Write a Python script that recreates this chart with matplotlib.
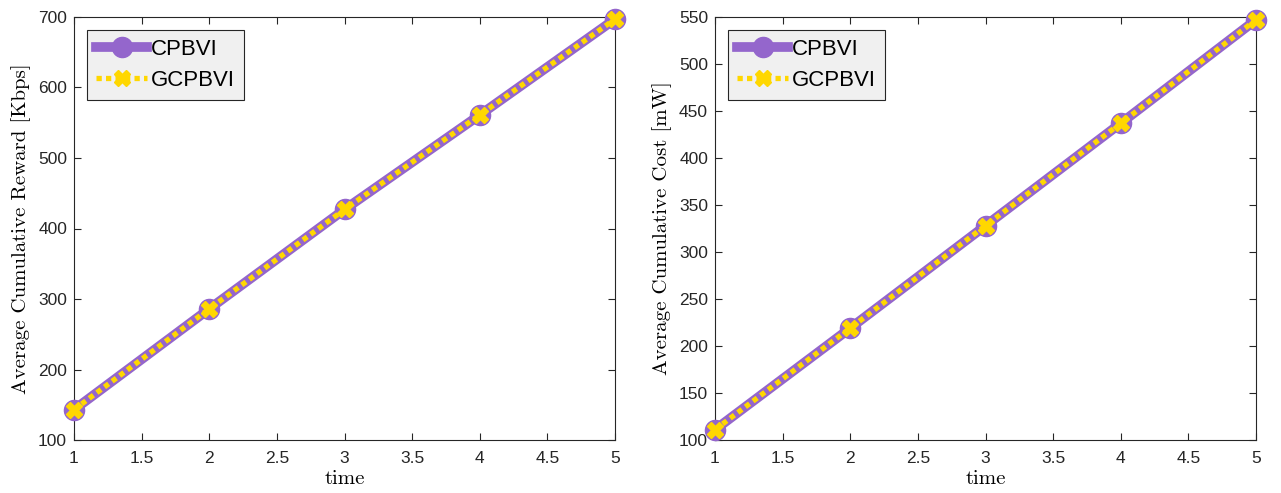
import matplotlib
matplotlib.use('Agg')
import matplotlib.pyplot as plt
import numpy as np

time = [1, 2, 3, 4, 5]
reward_cpbvi = [143, 286, 427, 561, 697]
reward_gcpbvi = [143, 286, 427, 561, 697]
cost_cpbvi = [111, 219, 328, 437, 547]
cost_gcpbvi = [111, 219, 328, 437, 547]

purple = '#9466cc'
gold = '#ffd700'

plt.rcParams['font.family'] = ['Liberation Sans', 'DejaVu Sans']

fig = plt.figure(figsize=(12.81, 4.93), dpi=100)
ax1 = fig.add_axes([74 / 1281, 1 - 440 / 493, 541 / 1281, 423 / 493])
ax2 = fig.add_axes([715 / 1281, 1 - 440 / 493, 541 / 1281, 423 / 493])


def draw(ax, y1, y2, ylim, yticks, ylabel):
    ax.plot(time, y1, '-o', color=purple, lw=7, ms=14.5, mfc=purple, mec=purple,
            label='CPBVI', clip_on=False, zorder=3)
    ax.plot(time, y2, 'X', color=gold, ls=(0, (1, 0.8)), lw=3.8, ms=11,
            mfc=gold, mec=gold, label='GCPBVI', clip_on=False, zorder=4)
    ax.set_xlim(1, 5)
    ax.set_ylim(*ylim)
    ax.set_xticks(np.arange(1, 5.01, 0.5))
    ax.set_xticklabels(['1', '1.5', '2', '2.5', '3', '3.5', '4', '4.5', '5'])
    ax.set_yticks(yticks)
    ax.tick_params(direction='in', length=5, width=0.8, labelsize=12.5,
                   top=True, right=True, color='#262626', labelcolor='#262626')
    ax.tick_params(axis='x', pad=8)
    ax.tick_params(axis='y', pad=5)
    for s in ax.spines.values():
        s.set_linewidth(0.8)
        s.set_color('#262626')
    ax.set_xlabel('time', fontfamily='cmr10', fontsize=15, labelpad=3)
    ax.set_ylabel(ylabel, fontfamily='cmr10', fontsize=15, labelpad=5)
    leg = ax.legend(loc='upper left', fontsize=16, frameon=True, fancybox=False,
                    handlelength=2.3, handletextpad=0.15, borderpad=0.4,
                    labelspacing=0.45, borderaxespad=0.6)
    leg.get_frame().set_facecolor('#f0f0f0')
    leg.get_frame().set_edgecolor('#262626')
    leg.get_frame().set_linewidth(0.8)
    leg.get_frame().set_alpha(1)


draw(ax1, reward_cpbvi, reward_gcpbvi, (100, 700), range(100, 701, 100),
     'Average Cumulative Reward [Kbps]')
draw(ax2, cost_cpbvi, cost_gcpbvi, (100, 550), range(100, 551, 50),
     'Average Cumulative Cost [mW]')

fig.savefig('out.png', dpi=100)
